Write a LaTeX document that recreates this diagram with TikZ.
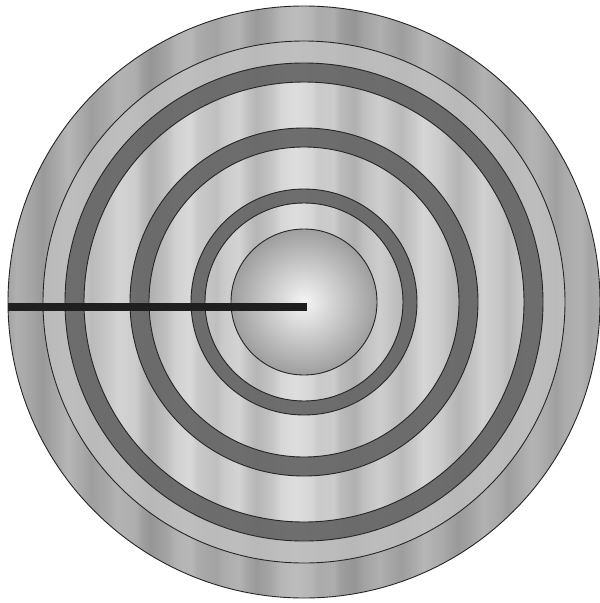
\documentclass[tikz,border=0pt]{standalone}
\usetikzlibrary{calc}
\pgfdeclarehorizontalshading{brushed}{100bp}{%
color(0bp)=(black!22); color(25bp)=(black!24); color(25.7bp)=(black!19); color(27.2bp)=(black!25);
color(27.9bp)=(black!29); color(29.3bp)=(black!21); color(30.1bp)=(black!16); color(31.4bp)=(black!23);
color(32.0bp)=(black!27); color(33.6bp)=(black!21); color(34.2bp)=(black!17); color(35.8bp)=(black!20);
color(36.3bp)=(black!26); color(37.0bp)=(black!31); color(38.5bp)=(black!24); color(39.1bp)=(black!18);
color(40.4bp)=(black!15); color(41.0bp)=(black!21); color(42.6bp)=(black!25); color(43.1bp)=(black!21);
color(44.5bp)=(black!17); color(45.2bp)=(black!24); color(46.0bp)=(black!29); color(47.4bp)=(black!22);
color(48.0bp)=(black!16); color(49.3bp)=(black!13); color(50.6bp)=(black!16); color(51.2bp)=(black!21);
color(52.5bp)=(black!20); color(53.1bp)=(black!27); color(54.3bp)=(black!31); color(55.0bp)=(black!25);
color(56.4bp)=(black!19); color(57.0bp)=(black!22); color(58.2bp)=(black!27); color(59.5bp)=(black!20);
color(60.1bp)=(black!16); color(61.6bp)=(black!21); color(62.2bp)=(black!25); color(63.0bp)=(black!29);
color(64.5bp)=(black!22); color(65.1bp)=(black!18); color(66.7bp)=(black!23); color(67.2bp)=(black!27);
color(68.6bp)=(black!20); color(69.2bp)=(black!17); color(70.5bp)=(black!22); color(71.3bp)=(black!26);
color(72.0bp)=(black!21); color(73.4bp)=(black!18); color(74.1bp)=(black!24); color(75bp)=(black!22);
color(100bp)=(black!22)}
\tikzset{
  ringline/.style={draw=black!85, line width=0.9pt},
  darkring/.style={fill=black!60, fill opacity=0.93, even odd rule},
  outerband/.style={fill=black, fill opacity=0.15, even odd rule},
  secondband/.style={fill=black!27, fill opacity=0.85, even odd rule},
  probe/.style={draw=black!88, line width=7.5pt},
}
\begin{document}
\begin{tikzpicture}[x=1pt,y=-1pt]
\useasboundingbox (0,0) rectangle (600,603);
\fill[white] (0,0) rectangle (600,603);
\coordinate (c) at (304,302);
% brushed metal disk
\shade[shading=brushed] (c) circle[radius=296];
% outer band
\path[outerband] (c) circle[radius=296] (c) circle[radius=261];
% second band
\path[secondband] (c) circle[radius=261] (c) circle[radius=239];
% dark rings
\path[darkring] (c) circle[radius=239] (c) circle[radius=220];
\path[darkring] (c) circle[radius=174] (c) circle[radius=155];
\path[darkring] (c) circle[radius=113] (c) circle[radius=99];
% inner disk
\shade[inner color=black!4, outer color=black!38] (c) circle[radius=73];
% outlines
\foreach \r in {296,261,239,220,174,155,113,99,73}
  \draw[ringline] (c) circle[radius=\r];
% probe line
\coordinate (ps) at (8,307);
\coordinate (pe) at (307,307);
\draw[probe] (ps) -- (pe);
\end{tikzpicture}
\end{document}
